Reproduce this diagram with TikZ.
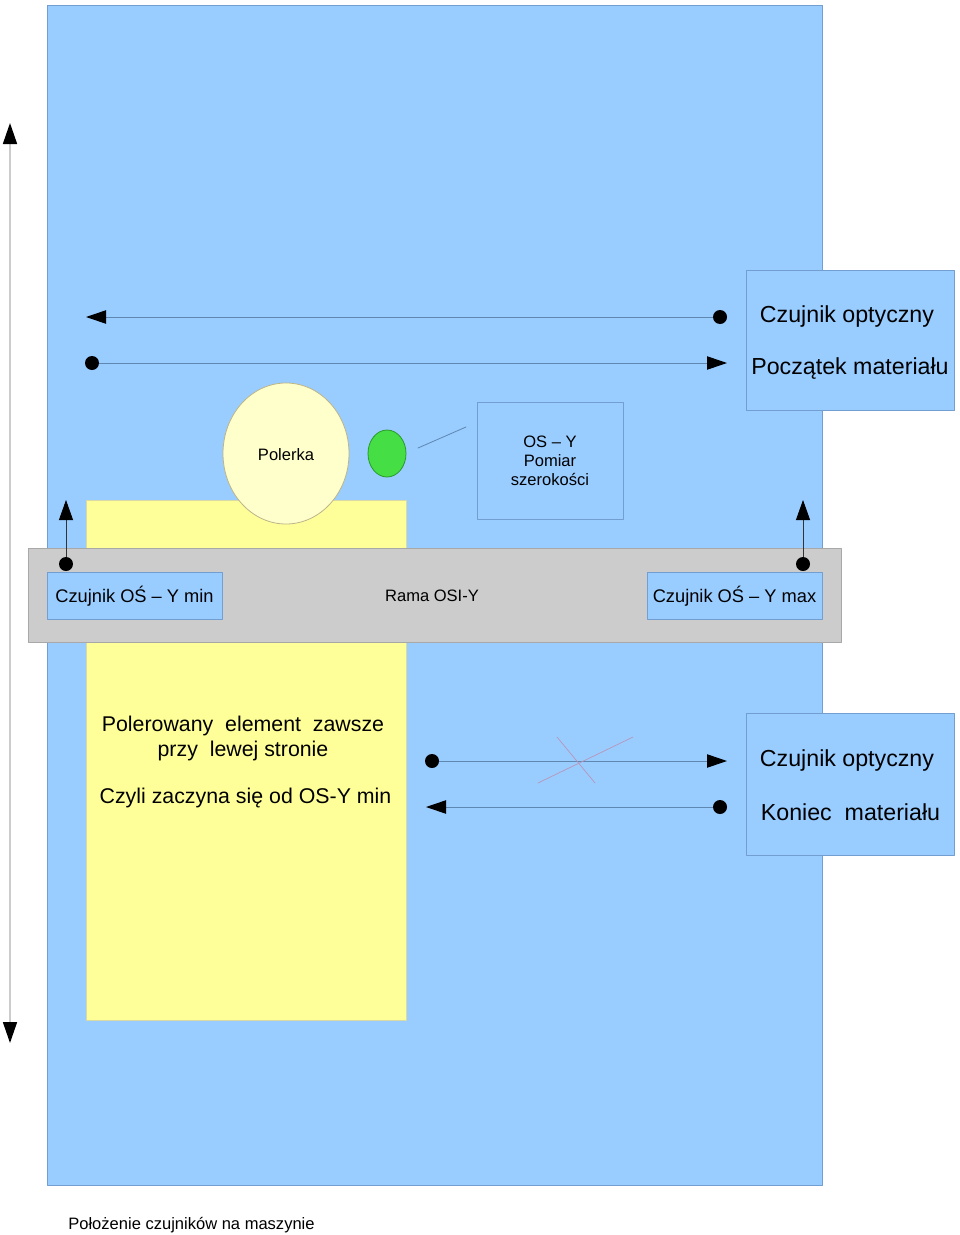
\documentclass[tikz,border=0pt]{standalone}
\usepackage{fontspec}
\setmainfont{Liberation Sans}
\usetikzlibrary{arrows.meta}
\definecolor{zzccff}{rgb}{0.6,0.8,1.}
\definecolor{zzsshh}{rgb}{0.45,0.62,0.82}
\definecolor{ffffzz}{rgb}{1.,1.,0.6}
\definecolor{ddddaa}{rgb}{0.85,0.85,0.65}
\definecolor{ffffcc}{rgb}{1.,1.,0.8}
\definecolor{sszzuu}{rgb}{0.74,0.71,0.54}
\definecolor{cccccc}{rgb}{0.8,0.8,0.8}
\definecolor{aaaaaa}{rgb}{0.66,0.66,0.66}
\definecolor{uuddtt}{rgb}{0.27,0.87,0.27}
\definecolor{qqzzqq}{rgb}{0.16,0.6,0.16}
\definecolor{uuiizz}{rgb}{0.37,0.53,0.7}
\definecolor{zzuuzz}{rgb}{0.72,0.58,0.72}
\tikzset{
  panel/.style={draw=zzsshh,fill=zzccff,line width=0.75pt},
  dot/.style={circle,fill=black,inner sep=0pt,minimum size=10.5pt},
  beam/.style={draw=uuiizz,line width=0.75pt,-{Triangle[length=15pt,width=10pt,color=black]}},
  lift/.style={draw=black!80,line width=0.6pt,-{Triangle[length=15pt,width=10.5pt,color=black]}},
  bigtxt/.style={font=\fontsize{17.4}{20}\selectfont},
  midtxt/.style={font=\fontsize{16}{19}\selectfont},
  boxtxt/.style={font=\fontsize{13.7}{16}\selectfont},
  smalltxt/.style={font=\fontsize{12.4}{14.3}\selectfont,align=center}
}
\begin{document}
\begin{tikzpicture}[line cap=round,line join=round,x=0.75pt,y=-0.75pt]
\useasboundingbox (0,0) rectangle (960,1235);
% table and workpiece
\draw[panel] (47,5) rectangle (822,1185);
\draw[draw=ddddaa,fill=ffffzz,line width=0.75pt] (86,500) rectangle (406,1020);
\node[midtxt] (elem1) at (243,726) {Polerowany\ \ element\ \ zawsze};
\node[midtxt] (elem2) at (243,751) {przy\ \ lewej stronie};
\node[midtxt] (elem3) at (245.5,798) {Czyli zaczyna się od OS-Y min};
% Y axis travel
\coordinate (ytop) at (10,123);
\coordinate (ybot) at (10,1043);
\draw[draw=cccccc,line width=1.2pt,{Triangle[length=15.75pt,width=10.5pt,color=black]}-{Triangle[length=15.75pt,width=10.5pt,color=black]}] (ytop) -- (ybot);
% polisher and width sensor
\draw[draw=sszzuu,fill=ffffcc,line width=0.6pt] (286,453.5) ellipse (63 and 70.5);
\node[smalltxt] (pol) at (286,454.5) {Polerka};
\draw[draw=qqzzqq,fill=uuddtt,line width=0.6pt] (387,453.5) ellipse (19 and 23.5);
\coordinate (ptr1) at (418,448);
\coordinate (ptr2) at (466,427);
\draw[draw=uuiizz,line width=0.6pt] (ptr1) -- (ptr2);
\node[panel,minimum width=109.5pt,minimum height=87.75pt] (osy) at (550,460.5) {};
\node[smalltxt] (osytxt) at (550,461) {OS -- Y\\Pomiar\\szerokości};
% frame OSI-Y
\draw[draw=aaaaaa,fill=cccccc,line width=0.75pt] (28,548) rectangle (841,642);
\node[panel,minimum width=131.25pt,minimum height=35.25pt] (ymin) at (134.5,595.5) {};
\node[boxtxt] at ([yshift=-0.75pt]ymin) {Czujnik OŚ -- Y min};
\node[panel,minimum width=131.25pt,minimum height=35.25pt] (ymax) at (734.5,595.5) {};
\node[boxtxt] at ([yshift=-0.75pt]ymax) {Czujnik OŚ -- Y max};
\node[smalltxt] (rama) at (432,596) {Rama OSI-Y};
\coordinate (upL) at (66,500);
\coordinate (upR) at (803,500);
\node[dot] (dL) at (66,564) {};
\node[dot] (dR) at (803,564) {};
\draw[lift] (dL) -- (upL);
\draw[lift] (dR) -- (upR);
% start of material sensor
\node[panel,minimum width=156pt,minimum height=105pt] (start) at (850,340) {};
\node[bigtxt] (start1) at (847,316) {Czujnik optyczny};
\node[bigtxt] (start2) at (850,369) {Początek materiału};
\node[dot] (s1) at (720,317) {};
\coordinate (s1end) at (86,317);
\draw[beam] (s1) -- (s1end);
\node[dot] (s2) at (92,363) {};
\coordinate (s2end) at (727,363);
\draw[beam] (s2) -- (s2end);
% end of material sensor
\node[panel,minimum width=156pt,minimum height=106.5pt] (stop) at (850,784) {};
\node[bigtxt] (stop1) at (847,760) {Czujnik optyczny};
\node[bigtxt] (stop2) at (850.5,812) {Koniec\ \ materiału};
\node[dot] (e1) at (432,761) {};
\coordinate (e1end) at (727,761);
\draw[beam] (e1) -- (e1end);
\node[dot] (e2) at (720,807) {};
\coordinate (e2end) at (426,807);
\draw[beam] (e2) -- (e2end);
\coordinate (xa) at (538,783);
\coordinate (xb) at (633,737);
\coordinate (xc) at (557,737);
\coordinate (xd) at (595,783);
\draw[draw=zzuuzz,line width=0.5pt] (xa) -- (xb);
\draw[draw=zzuuzz,line width=0.5pt] (xc) -- (xd);
% caption
\node[smalltxt] (caption) at (191.5,1225) {Położenie czujników na maszynie};
\end{tikzpicture}
\end{document}
